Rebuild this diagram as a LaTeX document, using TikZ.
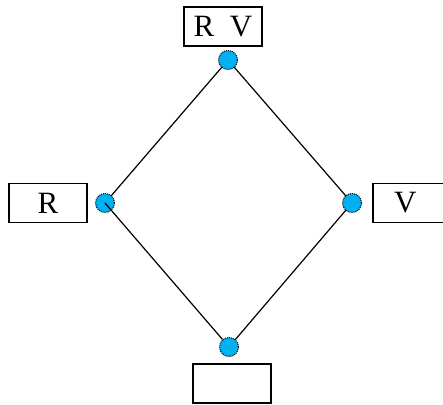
\documentclass[tikz,border=0pt]{standalone}
\usepackage{fontspec}
\setmainfont{Liberation Serif}
\definecolor{dotblue}{RGB}{0,176,240}
\begin{document}
\begin{tikzpicture}[x=1pt,y=-1pt,
  label box/.style={draw=black, line width=1.3pt, rectangle, minimum width=78pt,
    minimum height=39pt, inner sep=0pt, font=\fontsize{31}{33}\selectfont},
  elem/.style={circle, fill=dotblue, draw=black,
    dash pattern=on 1pt off 1pt, line width=1pt, minimum size=19pt, inner sep=0pt},
  edge/.style={draw=black, line width=1.2pt}]
  \useasboundingbox (0,0) rectangle (443,404);
  \begin{scope}
    \clip (0,0) rectangle (443,404);
    % labels of the lattice elements
    \node[label box] (ltop) at (223,26.5) {R~~V};
    \node[label box] (lleft) at (48,203) {R};
    \node[label box, text width=78pt, align=left] (lright) at (412,203) {\hspace*{21pt}V};
    \node[label box] (lbot) at (232,383.5) {};
  \end{scope}
  % lattice elements
  \coordinate (pt) at (228,60);
  \coordinate (pl) at (105,203);
  \coordinate (pr) at (352,203);
  \coordinate (pb) at (229,347);
  \draw[edge] (pt) -- (pl);
  \draw[edge] (pt) -- (pr);
  \draw[edge] (pr) -- (pb);
  \node[elem] (top) at (pt) {};
  \node[elem] (left) at (pl) {};
  \node[elem] (right) at (pr) {};
  \node[elem] (bot) at (pb) {};
  \draw[edge] (left.center) -- (bot);
\end{tikzpicture}
\end{document}
